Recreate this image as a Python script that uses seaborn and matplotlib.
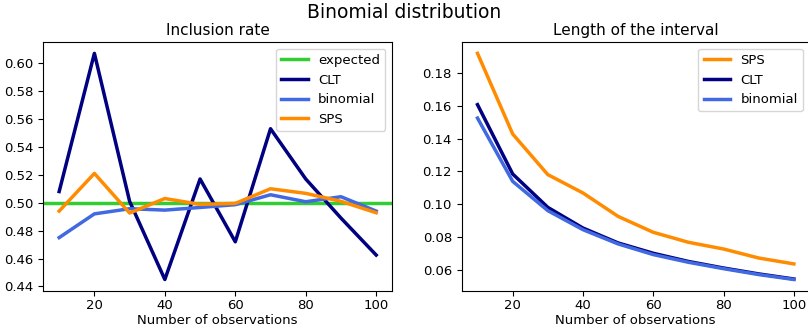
import matplotlib
matplotlib.use("Agg")
import matplotlib.pyplot as plt
import seaborn as sns

# number of observations
n_obs = [10, 20, 30, 40, 50, 60, 70, 80, 90, 100]

# inclusion rate of the confidence intervals
incl_clt = [0.508, 0.607, 0.501, 0.445, 0.517, 0.472, 0.553, 0.517, 0.489, 0.4625]
incl_binom = [0.475, 0.492, 0.4957, 0.4947, 0.4966, 0.4986, 0.5057, 0.5007, 0.5043, 0.494]
incl_sps = [0.494, 0.521, 0.4926, 0.503, 0.4988, 0.4995, 0.510, 0.5067, 0.501, 0.4928]
expected = 0.5

# length of the intervals
len_sps = [0.192, 0.1428, 0.118, 0.1068, 0.0925, 0.0828, 0.0767, 0.0726, 0.0671, 0.0635]
len_clt = [0.1607, 0.1184, 0.098, 0.0854, 0.0763, 0.070, 0.065, 0.061, 0.0574, 0.0543]
len_binom = [0.1525, 0.1139, 0.096, 0.0844, 0.0757, 0.0692, 0.0645, 0.0606, 0.057, 0.054]

plt.rcParams['xtick.labelsize'] = 9.5
plt.rcParams['ytick.labelsize'] = 9.5
plt.rcParams['xtick.major.pad'] = 2.5
plt.rcParams['legend.fontsize'] = 9.5

fig, (ax1, ax2) = plt.subplots(1, 2, figsize=(8.08, 3.26), dpi=100)
ax1.set_position([0.0536, 0.108, 0.4316, 0.763])
ax2.set_position([0.5714, 0.108, 0.4307, 0.763])

lw = 2.5

# Fig 1: inclusion rate
ax1.axhline(expected, color='limegreen', lw=lw, label='expected')
sns.lineplot(x=n_obs, y=incl_clt, ax=ax1, color='navy', lw=lw, label='CLT')
sns.lineplot(x=n_obs, y=incl_binom, ax=ax1, color='royalblue', lw=lw, label='binomial')
sns.lineplot(x=n_obs, y=incl_sps, ax=ax1, color='darkorange', lw=lw, label='SPS')
ax1.set_title('Inclusion rate', fontsize=11, pad=5)
ax1.set_xlabel('Number of observations', fontsize=9.5, labelpad=1)
ax1.set_xticks([20, 40, 60, 80, 100])
ax1.set_yticks([0.44, 0.46, 0.48, 0.50, 0.52, 0.54, 0.56, 0.58, 0.60])
ax1.legend(loc='upper right')

# Fig 2: length of the interval
sns.lineplot(x=n_obs, y=len_sps, ax=ax2, color='darkorange', lw=lw, label='SPS')
sns.lineplot(x=n_obs, y=len_clt, ax=ax2, color='navy', lw=lw, label='CLT')
sns.lineplot(x=n_obs, y=len_binom, ax=ax2, color='royalblue', lw=lw, label='binomial')
ax2.set_title('Length of the interval', fontsize=11, pad=5)
ax2.set_xlabel('Number of observations', fontsize=9.5, labelpad=1)
ax2.set_xticks([20, 40, 60, 80, 100])
ax2.legend(loc='upper right')

fig.suptitle('Binomial distribution', fontsize=13.5, y=0.99)
fig.savefig('out.png', dpi=100)
